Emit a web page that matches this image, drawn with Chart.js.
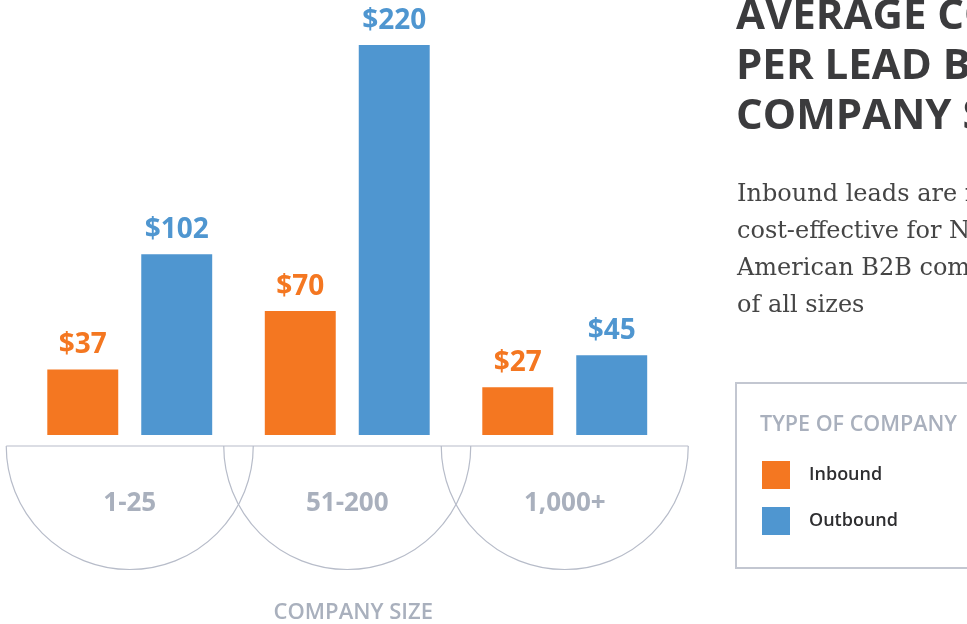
<!DOCTYPE html>
<html>
<head>
<meta charset="utf-8">
<title>Average cost per lead by company size</title>
<script src="https://cdn.jsdelivr.net/npm/chart.js@4/dist/chart.umd.min.js"></script>
<style>
    html, body {
        margin: 0;
        padding: 0;
        background: #fff;
        overflow: hidden;
    }
    .page {
        position: relative;
        width: 967px;
        height: 624px;
        overflow: hidden;
    }
    .chart-wrap {
        position: absolute;
        left: 0;
        top: 0;
        width: 967px;
        height: 624px;
    }
    .headline {
        position: absolute;
        left: 736px;
        top: -12px;
        margin: 0;
        font: 700 42px/50px "Open Sans", sans-serif;
        color: #3b3b3d;
        white-space: nowrap;
    }
    .blurb {
        position: absolute;
        left: 737px;
        top: 175px;
        margin: 0;
        font: 400 24px/37px "DejaVu Serif", Georgia, serif;
        color: #454545;
        white-space: nowrap;
    }
    .legend {
        position: absolute;
        left: 735px;
        top: 382px;
        width: 320px;
        height: 183px;
        border: 2px solid #c3c7d1;
        box-sizing: content-box;
    }
    .legend h4 {
        position: absolute;
        left: 23px;
        top: 28px;
        margin: 0;
        font: 600 21.5px/1 "Open Sans", sans-serif;
        color: #a9b0bd;
        white-space: nowrap;
    }
    .legend ul {
        list-style: none;
        margin: 0;
        padding: 0;
        position: absolute;
        left: 25px;
        top: 77px;
    }
    .legend li {
        display: flex;
        align-items: center;
        height: 28px;
        margin-bottom: 18px;
        font: 600 18px/1 "Open Sans", sans-serif;
        color: #2e2e30;
    }
    .legend li span.name {
        position: relative;
        top: -2px;
    }
    .legend .swatch {
        width: 28px;
        height: 28px;
        margin-right: 19px;
    }
</style>
</head>
<body>
<div class="page">
    <div class="chart-wrap"><canvas id="cpl-chart"></canvas></div>

    <h1 class="headline">AVERAGE COST<br>PER LEAD BY<br>COMPANY SIZE</h1>

    <p class="blurb">Inbound leads are more<br>cost-effective for North<br>American B2B companies<br>of all sizes</p>

    <div class="legend">
        <h4>TYPE OF COMPANY</h4>
        <ul id="cpl-legend"></ul>
    </div>
</div>

<script>
// Cost per lead (USD) by company size
const companySizes = ['1-25', '51-200', '1,000+'];
const inboundCost = [37, 70, 27];
const outboundCost = [102, 220, 45];
const seriesNames = ['Inbound', 'Outbound'];
const seriesColors = ['#f47721', '#4f96d0'];

const AXIS_GREY = '#a9b0bd';
const ARC_STROKE = '#b7bcc9';

// Value labels above bars, half-circle category "stands" below the baseline
const companySizeDecor = {
    id: 'companySizeDecor',
    afterDatasetsDraw(chart) {
        const ctx = chart.ctx;
        ctx.save();
        ctx.font = '700 28px "Open Sans", sans-serif';
        ctx.textAlign = 'center';
        ctx.textBaseline = 'alphabetic';
        chart.data.datasets.forEach((ds, i) => {
            chart.getDatasetMeta(i).data.forEach((bar, j) => {
                ctx.fillStyle = ds.backgroundColor;
                ctx.fillText('$' + ds.data[j], bar.x, bar.y - 16);
            });
        });
        ctx.restore();
    },
    afterDraw(chart) {
        const ctx = chart.ctx;
        const xScale = chart.scales.x;
        const lineY = chart.chartArea.bottom + 11;
        const r = 123.5;
        const centers = companySizes.map((_, i) => xScale.getPixelForValue(i));

        ctx.save();
        ctx.strokeStyle = ARC_STROKE;
        ctx.lineWidth = 1.2;

        ctx.beginPath();
        ctx.moveTo(centers[0] - r, lineY);
        ctx.lineTo(centers[centers.length - 1] + r, lineY);
        ctx.stroke();

        centers.forEach(cx => {
            ctx.beginPath();
            ctx.arc(cx, lineY, r, 0, Math.PI);
            ctx.stroke();
        });

        ctx.fillStyle = AXIS_GREY;
        ctx.textAlign = 'center';
        ctx.textBaseline = 'middle';
        ctx.font = '700 26px "Open Sans", sans-serif';
        centers.forEach((cx, i) => ctx.fillText(companySizes[i], cx, lineY + 58));

        ctx.font = '600 22px "Open Sans", sans-serif';
        ctx.fillText('COMPANY SIZE', (centers[0] + centers[2]) / 2 + 6, lineY + 167);
        ctx.restore();
    }
};

const chart = new Chart(document.getElementById('cpl-chart'), {
    type: 'bar',
    data: {
        labels: companySizes,
        datasets: [
            { label: seriesNames[0], data: inboundCost, backgroundColor: seriesColors[0] },
            { label: seriesNames[1], data: outboundCost, backgroundColor: seriesColors[1] }
        ]
    },
    options: {
        responsive: true,
        maintainAspectRatio: false,
        animation: false,
        events: [],
        categoryPercentage: 0.864,
        barPercentage: 0.755,
        layout: { padding: { left: 21, right: 293.5, top: 9.5, bottom: 189 } },
        plugins: {
            legend: { display: false },
            tooltip: { enabled: false }
        },
        scales: {
            x: { display: false },
            y: { display: false, min: 0, max: 240 }
        }
    },
    plugins: [companySizeDecor]
});

// HTML legend built from the datasets
document.getElementById('cpl-legend').innerHTML = chart.data.datasets.map(ds =>
    `<li><span class="swatch" style="background:${ds.backgroundColor}"></span><span class="name">${ds.label}</span></li>`
).join('');
</script>
</body>
</html>
